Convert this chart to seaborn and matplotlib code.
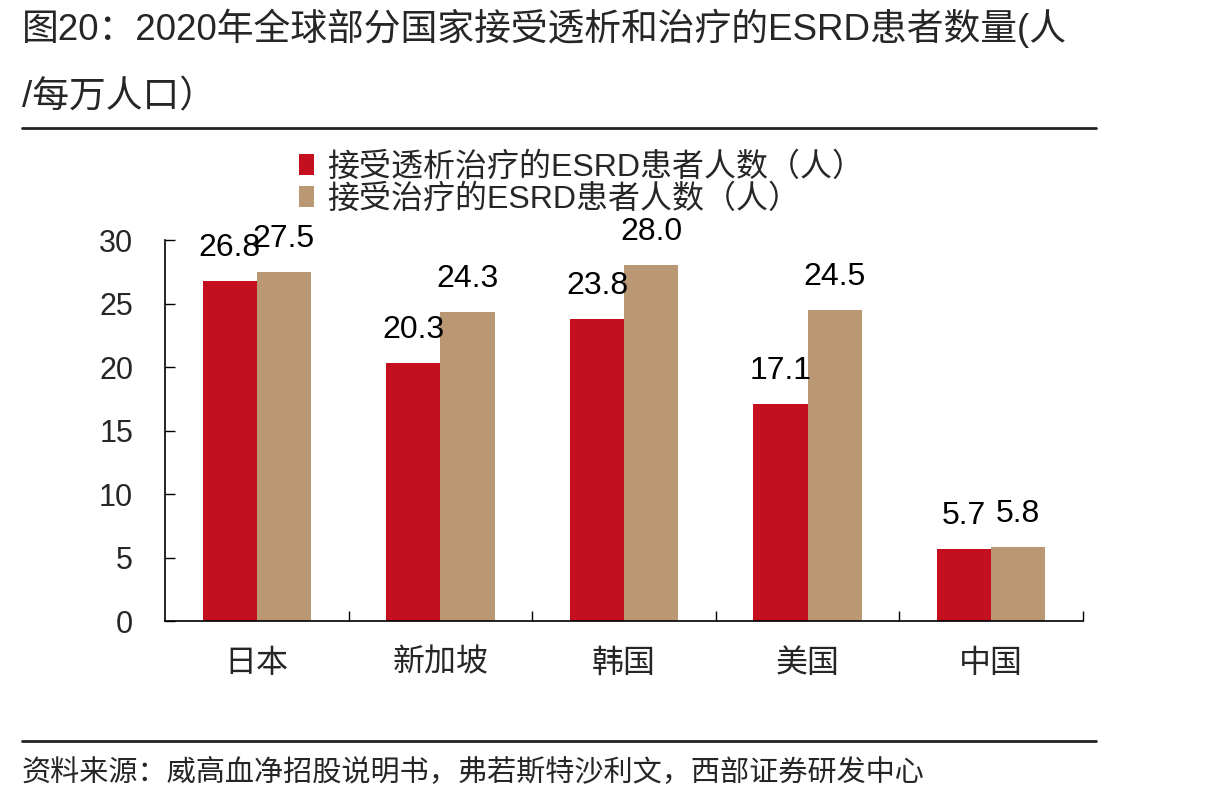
import pandas as pd
import matplotlib
matplotlib.use("Agg")
import matplotlib.pyplot as plt
from matplotlib.lines import Line2D
import seaborn as sns


countries = ["日本", "新加坡", "韩国", "美国", "中国"]
series_names = [
    "接受透析治疗的ESRD患者人数（人）",
    "接受治疗的ESRD患者人数（人）",
]
dialysis = [26.8, 20.3, 23.8, 17.1, 5.7]
treated = [27.5, 24.3, 28.0, 24.5, 5.8]
y_ticks = [0, 5, 10, 15, 20, 25, 30]

title_line1 = "图20：2020年全球部分国家接受透析和治疗的ESRD患者数量(人"
title_line2 = "/每万人口）"
source_text = "资料来源：威高血净招股说明书，弗若斯特沙利文，西部证券研发中心"

df = pd.DataFrame({
    "国家": countries * 2,
    "数值": dialysis + treated,
    "系列": [series_names[0]] * len(countries) + [series_names[1]] * len(countries),
})

sns.set_theme(style="white")
plt.rcParams["font.family"] = ["Liberation Sans", "Noto Sans CJK SC", "DejaVu Sans"]

colors = ["#C4101E", "#BA9873"]

fig = plt.figure(figsize=(12.15, 8.06), dpi=100)
ax = fig.add_axes([0.1358, 0.2295, 0.7556, 0.4727])

sns.barplot(
    data=df,
    x="国家",
    y="数值",
    hue="系列",
    hue_order=series_names,
    order=countries,
    palette=colors,
    saturation=1,
    width=0.59,
    linewidth=0,
    edgecolor="none",
    ax=ax,
)

for container in ax.containers:
    ax.bar_label(container, fmt="%.1f", padding=13, fontsize=23, color="black")

handles, labels = ax.get_legend_handles_labels()
ax.get_legend().remove()

fig.legend(
    handles,
    labels,
    loc="upper left",
    bbox_to_anchor=(0.246, 0.811),
    frameon=False,
    fontsize=23,
    handlelength=0.47,
    handleheight=0.6,
    handletextpad=0.4,
    labelspacing=0.05,
    borderpad=0,
    borderaxespad=0,
)

ax.set_xlim(-0.5, 4.5)
ax.set_ylim(0, 30)
ax.set_yticks(y_ticks)
ax.set_xlabel("")
ax.set_ylabel("")

ax.spines["top"].set_visible(False)
ax.spines["right"].set_visible(False)
for side in ["left", "bottom"]:
    ax.spines[side].set_color("black")
    ax.spines[side].set_linewidth(1.2)

ax.tick_params(axis="y", which="major", direction="in", length=7, width=1,
               color="black", labelsize=22, pad=23, left=True)
ax.set_xticks([0.5, 1.5, 2.5, 3.5, 4.5], minor=True)
ax.tick_params(axis="x", which="major", length=0, labelsize=23, pad=20)
ax.tick_params(axis="x", which="minor", direction="in", length=7, width=1,
               color="black", bottom=True)

fig.text(0.018, 0.965, title_line1, fontsize=26.5, va="center", ha="left")
fig.text(0.018, 0.879, title_line2, fontsize=26.5, va="center", ha="left")

fig.add_artist(Line2D([0.018, 0.902], [0.8412, 0.8412], transform=fig.transFigure,
                      color="#222222", lw=2))
fig.add_artist(Line2D([0.018, 0.902], [0.0806, 0.0806], transform=fig.transFigure,
                      color="#222222", lw=2))

fig.text(0.018, 0.041, source_text, fontsize=21, va="center", ha="left")

fig.savefig("out.png", dpi=100)
